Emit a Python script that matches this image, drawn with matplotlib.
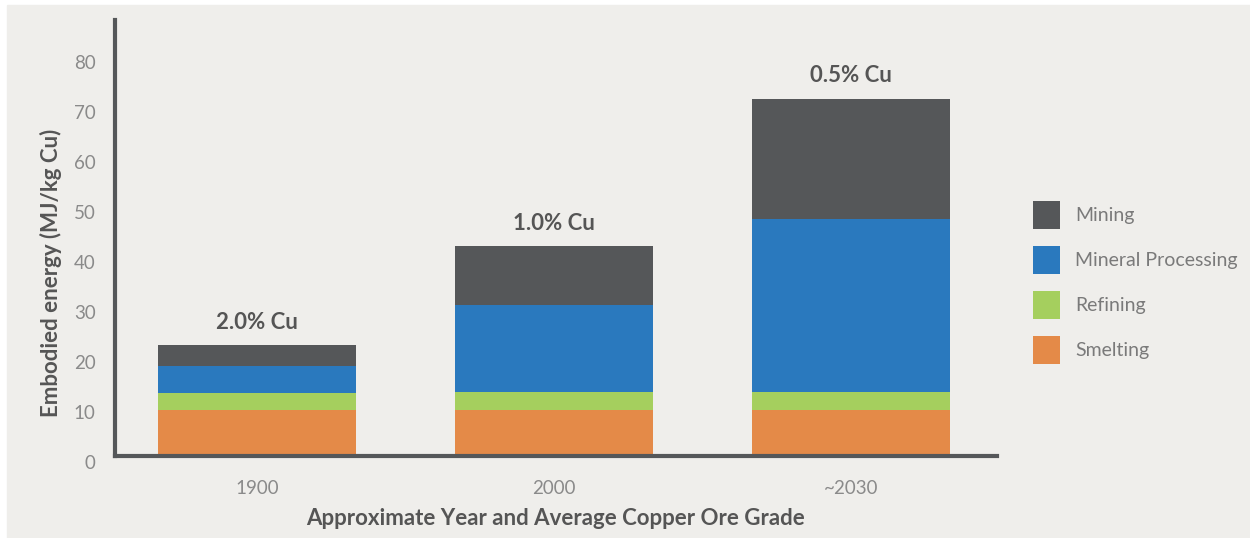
import matplotlib.pyplot as plt
import matplotlib.transforms as mtransforms
from matplotlib.patches import Rectangle
import numpy as np

years = ['1900', '2000', '~2030']
grades = ['2.0% Cu', '1.0% Cu', '0.5% Cu']

# stacked from bottom to top (MJ/kg Cu)
smelting = [9.2, 9.3, 9.3]
refining = [3.4, 3.5, 3.6]
mineral_processing = [5.4, 17.4, 34.5]
mining = [4.2, 11.8, 24.1]

colors = {
    'Smelting': '#e48a48',
    'Refining': '#a5cf5e',
    'Mineral Processing': '#2a79be',
    'Mining': '#555759',
}

plt.rcParams['font.family'] = ['Lato', 'DejaVu Sans']

fig = plt.figure(figsize=(12.5, 5.38), dpi=100, facecolor='white')
bg = '#efeeeb'
fig.patches.append(Rectangle((7 / 1250, 0), 1 - 7 / 1250, 1 - 5 / 538,
                             transform=fig.transFigure, color=bg, zorder=-10))

ax = fig.add_axes([115 / 1250, 1 - 456 / 538, (997 - 115) / 1250, (456 - 20) / 538])
ax.set_facecolor('none')
ax.set_zorder(2)

x = np.arange(len(years))
width = 0.667
bottom = np.zeros(len(years))
handles = {}
for name, vals in [('Smelting', smelting), ('Refining', refining),
                   ('Mineral Processing', mineral_processing), ('Mining', mining)]:
    b = ax.bar(x, vals, width, bottom=bottom, color=colors[name], label=name, zorder=2)
    handles[name] = b
    bottom = bottom + np.array(vals)

for xi, total, g in zip(x, bottom, grades):
    ax.text(xi, total + 2.4, g, ha='center', va='bottom', fontsize=16,
            fontweight='bold', color='#555555')

ax.set_xlim(-0.478, 2.49)
ax.set_ylim(0, 87.2)
ax.set_yticks(range(0, 81, 10))
ax.set_xticks(x)
ax.set_xticklabels(years)

for side in ['top', 'right']:
    ax.spines[side].set_visible(False)
for side in ['left', 'bottom']:
    ax.spines[side].set_linewidth(3)
    ax.spines[side].set_color('#555759')
    ax.spines[side].set_capstyle('projecting')

ax.tick_params(axis='both', length=0, labelsize=13.5, labelcolor='#8a8a8a')
ax.tick_params(axis='y', pad=14)
ax.tick_params(axis='x', pad=17)

# the y labels sit slightly below their grid values in the original
offset = mtransforms.ScaledTranslation(0, -6 / 100, fig.dpi_scale_trans)
for lab in ax.get_yticklabels():
    lab.set_transform(lab.get_transform() + offset)

ax.set_ylabel('Embodied energy (MJ/kg Cu)', fontsize=16, fontweight='bold',
              color='#555555')
ax.yaxis.set_label_coords(-0.060, 0.42)
ax.set_xlabel('Approximate Year and Average Copper Ore Grade', fontsize=16,
              fontweight='bold', color='#555555', labelpad=8)

order = ['Mining', 'Mineral Processing', 'Refining', 'Smelting']
fig.legend([handles[n] for n in order], order, loc='upper left',
           bbox_to_anchor=(1033 / 1250, 1 - 201 / 538), frameon=False,
           fontsize=14, labelcolor='#7a7a7a', handlelength=1.4,
           handleheight=1.86, labelspacing=0.86, handletextpad=0.77,
           borderpad=0, borderaxespad=0)

fig.savefig('out.png', dpi=100, facecolor=fig.get_facecolor())
